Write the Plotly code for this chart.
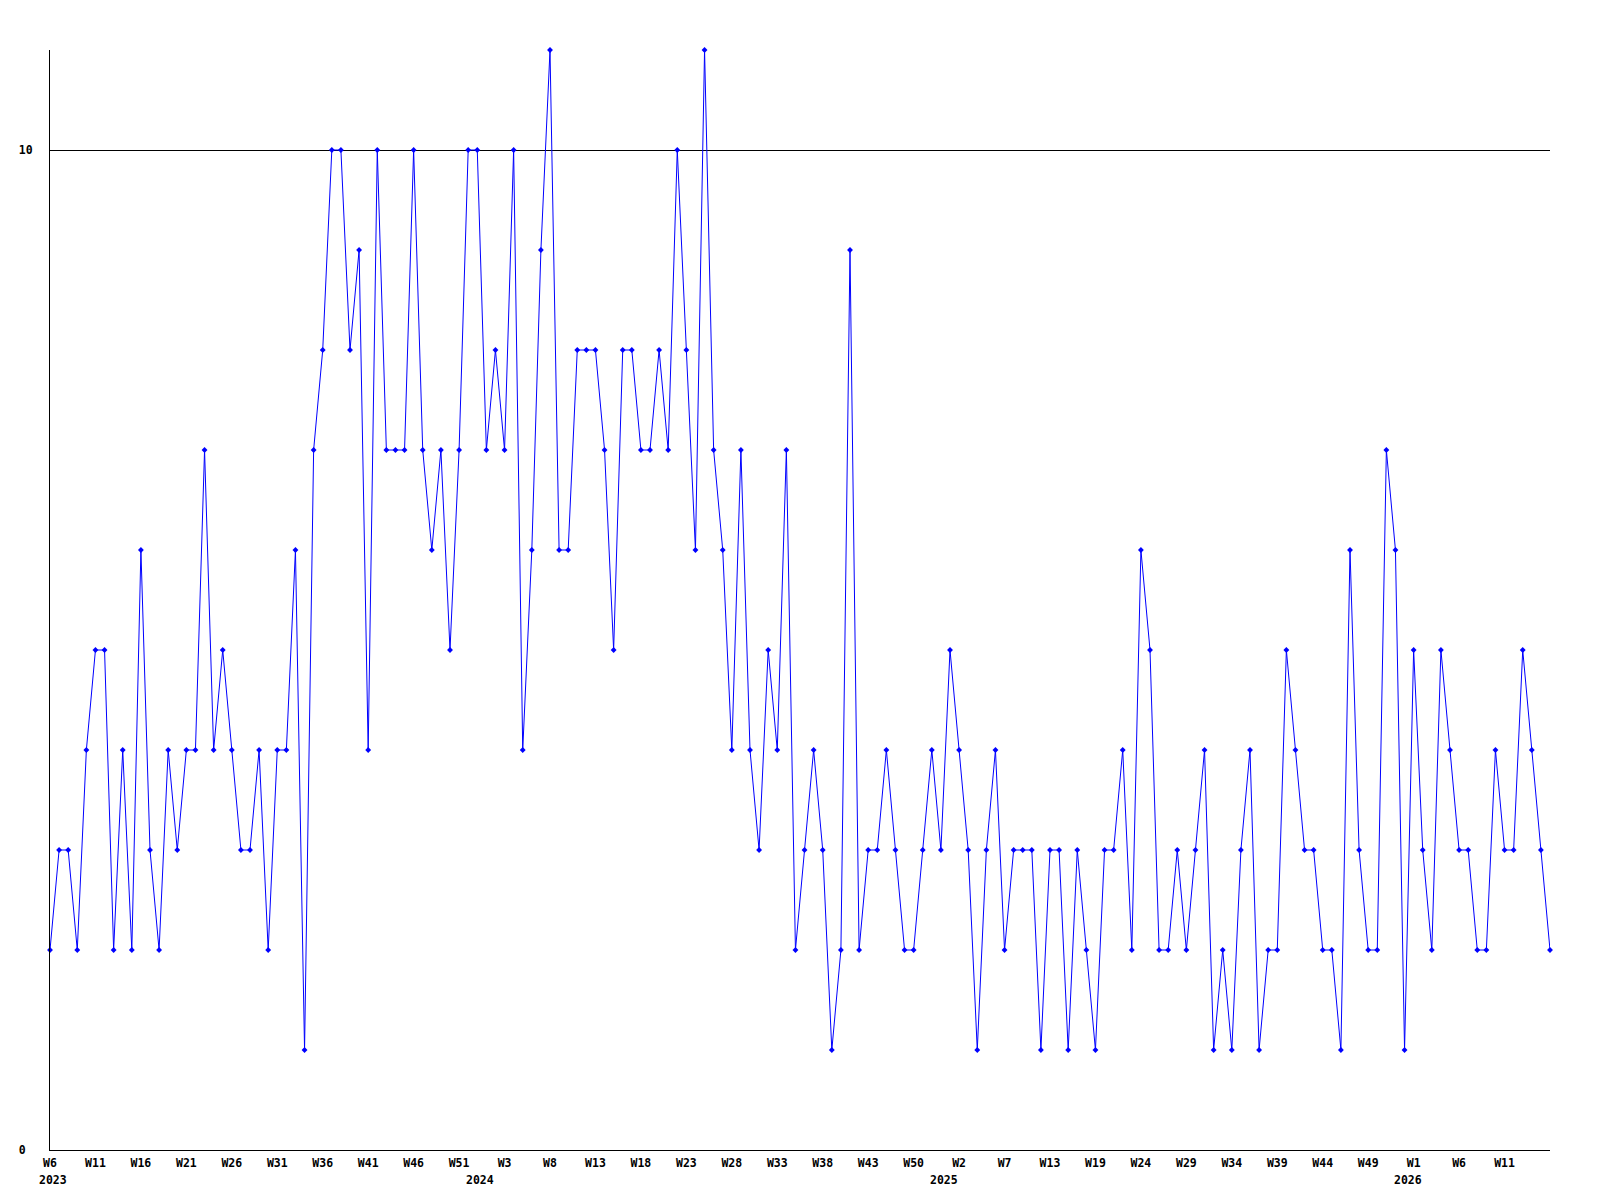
import plotly.graph_objects as go

# Weekly values, 2023 W6 .. 2026 W16 (166 points)
values = [
    2, 3, 3, 2, 4, 5, 5, 2, 4, 2, 6, 3, 2, 4, 3, 4, 4, 7, 4, 5, 4, 3, 3, 4,
    2, 4, 4, 6, 1, 7, 8, 10, 10, 8, 9, 4, 10, 7, 7, 7, 10, 7, 6, 7, 5, 7, 10,
    10, 7, 8, 7, 10, 4, 6, 9, 11, 6, 6, 8, 8, 8, 7, 5, 8, 8, 7, 7, 8, 7, 10, 8,
    6, 11, 7, 6, 4, 7, 4, 3, 5, 4, 7, 2, 3, 4, 3, 1, 2, 9, 2, 3, 3, 4, 3,
    2, 2, 3, 4, 3, 5, 4, 3, 1, 3, 4, 2, 3, 3, 3, 1, 3, 3, 1, 3, 2, 1, 3,
    3, 4, 2, 6, 5, 2, 2, 3, 2, 3, 4, 1, 2, 1, 3, 4, 1, 2, 2, 5, 4, 3, 3, 2,
    2, 1, 6, 3, 2, 2, 7, 6, 1, 5, 3, 2, 5, 4, 3, 3, 2, 2, 4, 3, 3, 5, 4, 3, 2,
]

# Week tick labels, one every 5 points
week_labels = [
    "W6", "W11", "W16", "W21", "W26", "W31", "W36", "W41", "W46", "W51",
    "W3", "W8", "W13", "W18", "W23", "W28", "W33", "W38", "W43", "W50",
    "W2", "W7", "W13", "W19", "W24", "W29", "W34", "W39", "W44", "W49",
    "W1", "W6", "W11",
]
label_step = 5

# Year labels and index of first point of each year
years = ["2023", "2024", "2025", "2026"]
year_start_idx = [0, 47, 98, 149]

y_ticks = [0, 10]

FONT = "DejaVu Sans Mono"

x = list(range(len(values)))
tick_idx = [i * label_step for i in range(len(week_labels))]

fig = go.Figure()
fig.add_trace(go.Scatter(
    x=x, y=values, mode="lines+markers",
    line=dict(color="#0000ff", width=1),
    marker=dict(color="#0000ff", size=4.5, symbol="diamond"),
    cliponaxis=False,
    hoverinfo="skip",
    showlegend=False,
))

for yr, idx in zip(years, year_start_idx):
    fig.add_annotation(
        x=idx, y=0, xref="x", yref="paper",
        text="<b>%s</b>" % yr, showarrow=False,
        xanchor="center", yanchor="middle", yshift=-30, xshift=3,
        font=dict(family=FONT, size=11.5, color="black"),
    )

fig.update_layout(
    width=1600, height=1200,
    margin=dict(l=42, r=58, t=42, b=58),
    paper_bgcolor="white", plot_bgcolor="white",
    xaxis=dict(
        range=[0, len(values) - 1],
        tickmode="array", tickvals=tick_idx,
        ticktext=["<b>%s</b>" % t for t in week_labels],
        showgrid=False, zeroline=False,
        showline=True, linecolor="black", linewidth=1,
        ticks="", tickfont=dict(family=FONT, size=11.5, color="black"),
        ticklabelstandoff=2,
    ),
    yaxis=dict(
        range=[0, 11],
        tickmode="array", tickvals=y_ticks,
        ticktext=["<b>0\u00a0</b>", "<b>10</b>"],
        showgrid=True, gridcolor="black", gridwidth=1,
        zeroline=False,
        showline=True, linecolor="black", linewidth=1,
        ticks="", tickfont=dict(family=FONT, size=11.5, color="black"),
        ticklabelstandoff=14,
    ),
)

fig.write_html("out.html")
